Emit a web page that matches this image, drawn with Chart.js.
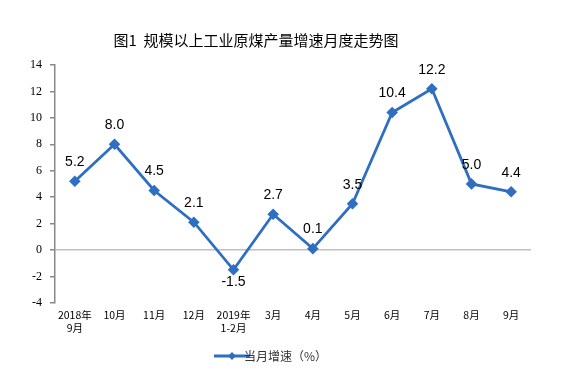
<!DOCTYPE html>
<html>
<head>
<meta charset="utf-8">
<script src="https://cdn.jsdelivr.net/npm/chart.js@4"></script>
<style>
  body { margin: 0; background: #fff; }
  #wrap { width: 566px; height: 386px; }
</style>
</head>
<body>
<div id="wrap"><canvas id="myChart" width="566" height="386"></canvas></div>
<script>
const titleText = '图1  规模以上工业原煤产量增速月度走势图';
const months = [['2018年', '9月'], '10月', '11月', '12月', ['2019年', '1-2月'], '3月', '4月', '5月', '6月', '7月', '8月', '9月'];
const growth = [5.2, 8.0, 4.5, 2.1, -1.5, 2.7, 0.1, 3.5, 10.4, 12.2, 5.0, 4.4];
const yTicks = [-4, -2, 0, 2, 4, 6, 8, 10, 12, 14];

const blue = '#2F6FC2';

// legend marker: short line with diamond
const marker = document.createElement('canvas');
marker.width = 40;
marker.height = 10;
const m = marker.getContext('2d');
m.strokeStyle = blue;
m.lineWidth = 3;
m.beginPath();
m.moveTo(2, 5);
m.lineTo(38, 5);
m.stroke();
m.fillStyle = blue;
m.beginPath();
m.moveTo(20, 1);
m.lineTo(24, 5);
m.lineTo(20, 9);
m.lineTo(16, 5);
m.closePath();
m.fill();

// title drawn a bit left of centre, as in the original
const titlePlugin = {
  id: 'titlePlugin',
  afterDraw(chart) {
    const c = chart.ctx;
    c.save();
    c.font = '15px "Noto Sans CJK SC", sans-serif';
    c.fillStyle = '#000';
    c.textAlign = 'center';
    c.textBaseline = 'middle';
    c.fillText(titleText, 256, 40);
    c.restore();
  }
};

const valueLabels = {
  id: 'valueLabels',
  afterDatasetsDraw(chart) {
    const c = chart.ctx;
    const meta = chart.getDatasetMeta(0);
    c.save();
    c.font = '14px "Liberation Sans", Arial, sans-serif';
    c.fillStyle = '#000';
    c.textAlign = 'center';
    meta.data.forEach((pt, i) => {
      const v = growth[i];
      if (v < 0) {
        c.textBaseline = 'top';
        c.fillText(v.toFixed(1), pt.x, pt.y + 5);
      } else {
        c.textBaseline = 'bottom';
        c.fillText(v.toFixed(1), pt.x, pt.y - 12);
      }
    });
    c.restore();
  }
};

const ctx = document.getElementById('myChart').getContext('2d');

// eslint-disable-next-line no-undef, no-unused-vars
const chart = new Chart(ctx, {
  type: 'line',
  data: {
    labels: months,
    datasets: [
      {
        label: '当月增速（%）',
        data: growth,
        borderColor: blue,
        backgroundColor: blue,
        borderWidth: 2.8,
        pointStyle: 'rectRot',
        pointRadius: 3.8,
        pointHoverRadius: 3.8,
        tension: 0,
      },
    ],
  },
  options: {
    responsive: false,
    animation: false,
    layout: { padding: { left: 22, right: 35, top: 65, bottom: 14 } },
    plugins: {
      title: { display: false },
      legend: {
        position: 'bottom',
        labels: {
          color: '#333',
          font: { family: '"Noto Sans CJK SC", sans-serif', size: 12 },
          usePointStyle: true,
          generateLabels: () => [{
            text: '当月增速（%）',
            pointStyle: marker,
            fontColor: '#333',
            lineWidth: 0,
            hidden: false,
            datasetIndex: 0,
          }],
        },
      },
      tooltip: { enabled: false },
    },
    scales: {
      x: {
        offset: true,
        grid: { display: false, drawTicks: false },
        border: { display: false },
        ticks: {
          color: '#000',
          maxRotation: 0,
          autoSkip: false,
          padding: 6,
          font: { family: '"Noto Sans CJK SC", sans-serif', size: 10.5 },
        },
      },
      y: {
        min: -4,
        max: 14,
        afterBuildTicks: (axis) => { axis.ticks = yTicks.map((v) => ({ value: v })); },
        grid: {
          color: (c) => (c.tick && c.tick.value === 0 ? '#bfbfbf' : 'rgba(0,0,0,0)'),
          tickColor: '#888',
          tickLength: 5,
          lineWidth: 1.5,
        },
        border: { display: true, color: '#888', width: 1.5 },
        ticks: {
          color: '#000',
          padding: 8,
          font: { family: '"Liberation Serif", serif', size: 12 },
        },
      },
    },
  },
  plugins: [valueLabels, titlePlugin],
});
</script>
</body>
</html>
